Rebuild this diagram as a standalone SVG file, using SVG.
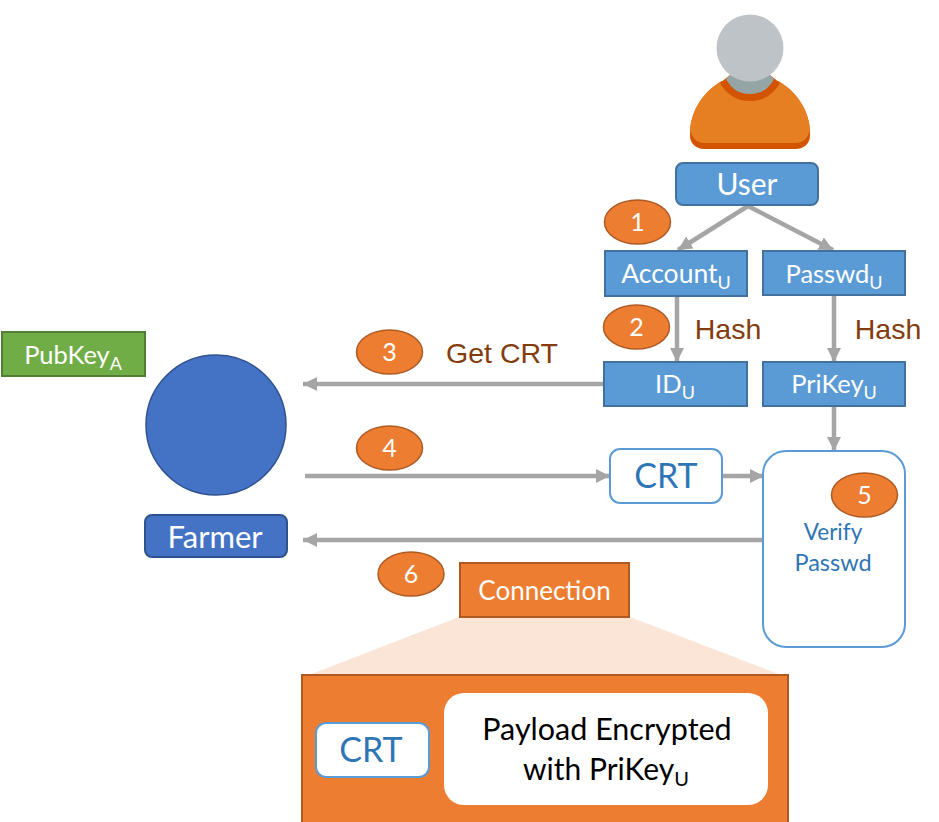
<svg xmlns="http://www.w3.org/2000/svg" width="939" height="822" viewBox="0 0 939 822">
<style>
text{font-family:Lato,"Noto Sans",sans-serif;text-anchor:middle}
.box{fill:#5b9bd5;stroke:#41719c;stroke-width:2}
.ell{fill:#ed7d31;stroke:#ae5a21;stroke-width:1.5}
.org{fill:#ed7d31;stroke:#ae5a21;stroke-width:2}
.crt{fill:#fff;stroke:#5b9bd5;stroke-width:2}
.hash{font-family:"Liberation Sans",Arial,sans-serif;fill:#843c0c;font-size:28.5px}
.num{fill:#fff;font-size:25px}
.lbl{fill:#fff;font-size:26.5px}
.blue{fill:#2e75b6}
.con{fill:none;stroke:#a5a5a5;stroke-width:4.5}
</style>
<defs>
<marker id="a" markerUnits="userSpaceOnUse" markerWidth="16" markerHeight="16" refX="14" refY="7" orient="auto"><path d="M0 0L14 7L0 14Z" fill="#a5a5a5"/></marker>
</defs>
<g id="user-icon">
<path d="M690 132C691 110 704 91 722 81L778 81C796 91 809 110 810 132L810 136C810 143 804 149 796 149L704 149C696 149 690 143 690 136Z" fill="#d35400"/>
<path d="M690 130C691 110 704 91 722 81L778 81C796 91 809 110 810 130C808 139 802 143 796 143L704 143C698 143 692 139 690 130Z" fill="#e67e22"/>
<path d="M720 83C727 95 737 101 750 101C763 101 773 95 780 83L770 75L730 75Z" fill="#d35400"/>
<path d="M726 79C732 90 740 94 750 94C760 94 768 90 774 79L765 70L735 70Z" fill="#95a5a5"/>
<circle cx="750" cy="48" r="33.5" fill="#bdc3c7"/>
</g>
<g id="zoom-wedge"><path d="M459 617L630 617L781 675L309 675Z" fill="#fbe5d6"/></g>
<g id="connectors">
<path class="con" marker-end="url(#a)" d="M748 206L678 250"/>
<path class="con" marker-end="url(#a)" d="M748 206L833 250"/>
<path class="con" marker-end="url(#a)" d="M677 296L677 362"/>
<path class="con" marker-end="url(#a)" d="M834 296L834 362"/>
<path class="con" marker-end="url(#a)" d="M605 384L303 384"/>
<path class="con" marker-end="url(#a)" d="M305 476L610 476"/>
<path class="con" marker-end="url(#a)" d="M722 476L764 476"/>
<path class="con" marker-end="url(#a)" d="M834 406L834 451"/>
<path class="con" marker-end="url(#a)" d="M764 540L303 540"/>
</g>
<g id="user"><rect class="box" x="676" y="163" width="142" height="42" rx="7"/><text class="lbl" x="747" y="195" style="font-size:30px">User</text></g>
<g id="account"><rect class="box" x="605" y="251" width="142" height="45"/><text class="lbl" x="676" y="283">Account<tspan font-size="18" dy="6">U</tspan></text></g>
<g id="passwd"><rect class="box" x="763" y="251" width="142" height="44"/><text class="lbl" x="834" y="283" style="font-size:25.5px">Passwd<tspan font-size="18" dy="6">U</tspan></text></g>
<g id="id"><rect class="box" x="604" y="362" width="143" height="44"/><text class="lbl" x="675" y="393" style="font-size:25.5px">ID<tspan font-size="18" dy="6">U</tspan></text></g>
<g id="prikey"><rect class="box" x="763" y="362" width="142" height="44"/><text class="lbl" x="834" y="393" style="font-size:25.5px">PriKey<tspan font-size="18" dy="6">U</tspan></text></g>
<g id="step1"><ellipse class="ell" cx="637.5" cy="222" rx="33" ry="22"/><text class="num" x="637.5" y="231">1</text></g>
<g id="step2"><ellipse class="ell" cx="636.5" cy="327" rx="33" ry="22"/><text class="num" x="636.5" y="336">2</text></g>
<g id="step3"><ellipse class="ell" cx="389.5" cy="352" rx="33" ry="22"/><text class="num" x="389.5" y="361">3</text></g>
<g id="step4"><ellipse class="ell" cx="389.5" cy="448" rx="33" ry="22"/><text class="num" x="389.5" y="457">4</text></g>
<g id="step6"><ellipse class="ell" cx="411" cy="574" rx="33" ry="22"/><text class="num" x="411" y="583">6</text></g>
<text class="hash" x="728" y="339">Hash</text>
<text class="hash" x="888" y="339">Hash</text>
<text class="hash" x="502" y="363">Get CRT</text>
<g id="pubkey"><rect x="2" y="332" width="143" height="44" fill="#70ad47" stroke="#507e32" stroke-width="2"/><text class="lbl" x="73" y="364" style="font-size:25.5px">PubKey<tspan font-size="18" dy="6">A</tspan></text></g>
<g id="farmer-circle"><circle cx="216" cy="425" r="70" fill="#4472c4" stroke="#2f528f" stroke-width="1.5"/></g>
<g id="farmer"><rect x="145" y="515" width="142" height="42" rx="7" fill="#4472c4" stroke="#2f528f" stroke-width="2"/><text class="lbl" x="215" y="548" style="font-size:31px">Farmer</text></g>
<g id="crt-top"><rect class="crt" x="610" y="449" width="112" height="54" rx="10"/><text class="blue" x="666" y="488" font-size="34">CRT</text></g>
<g id="verify"><rect class="crt" x="763" y="451" width="142" height="196" rx="23"/><ellipse class="ell" cx="864.5" cy="495" rx="33" ry="22"/><text class="num" x="864.5" y="504">5</text><text class="blue" x="833" y="540" font-size="22.5">Verify</text><text class="blue" x="833" y="571" font-size="23.5">Passwd</text></g>
<g id="connection"><rect class="org" x="460" y="563" width="169" height="54"/><text class="lbl" x="544.5" y="600" style="font-size:26px">Connection</text></g>
<g id="packet"><rect class="org" x="302" y="675" width="486" height="160"/><rect class="crt" x="316" y="723" width="113" height="54" rx="10"/><text class="blue" x="371" y="762" font-size="34">CRT</text><rect x="444" y="693" width="324" height="112" rx="20" fill="#fff"/><text x="607" y="740" font-size="30.5" fill="#000">Payload Encrypted</text><text x="606" y="780" font-size="30" fill="#000">with PriKey<tspan font-size="20" dy="6">U</tspan></text></g>
</svg>
